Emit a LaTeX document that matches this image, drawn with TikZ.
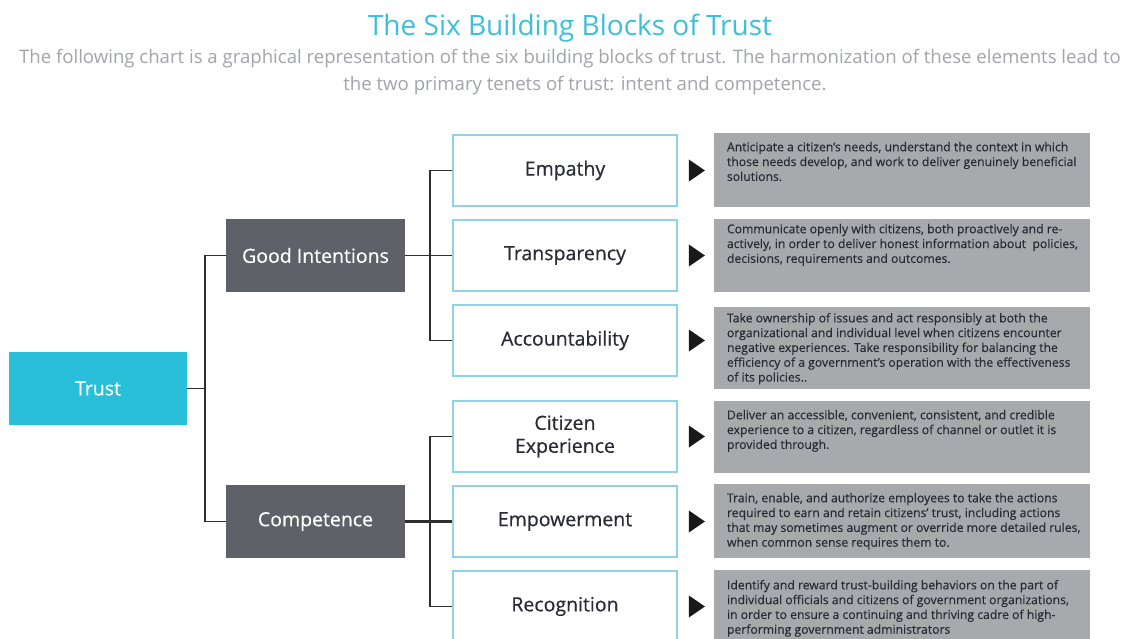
\documentclass[tikz,border=0pt]{standalone}
\usepackage{fontspec}
\setmainfont{Open Sans}
\newfontfamily\semifont[FakeBold=0.5]{Open Sans}
\newfontfamily\notefont[FakeBold=0.3]{Open Sans}
\usetikzlibrary{calc}
\definecolor{titlecyan}{HTML}{3DBFD9}
\definecolor{subgray}{HTML}{A3A4AB}
\definecolor{trustcyan}{HTML}{29BFD9}
\definecolor{slate}{HTML}{5E6168}
\definecolor{edgeblue}{HTML}{8FD4E6}
\definecolor{descgray}{HTML}{A7A9AC}
\definecolor{inkdark}{HTML}{2A2A35}
\definecolor{linedark}{HTML}{2E2E2E}
\tikzset{
  rootbox/.style={fill=trustcyan, text=white, minimum width=178pt, minimum height=73pt,
    inner sep=0pt, font=\semifont\fontsize{19.5}{22}\selectfont},
  tenetbox/.style={fill=slate, text=white, minimum width=179pt, minimum height=73pt,
    inner sep=0pt, font=\semifont\fontsize{19.5}{22}\selectfont},
  blockbox/.style={draw=edgeblue, line width=1.8pt, fill=white, text=inkdark,
    minimum width=224pt, minimum height=71pt, inner sep=0pt, align=center,
    font=\semifont\fontsize{19.5}{23}\selectfont},
  descbox/.style={fill=descgray, minimum width=376pt, inner sep=0pt},
  desctext/.style={anchor=north west, inner sep=0pt, align=left, text=inkdark,
    font=\notefont\fontsize{12.2}{14.8}\selectfont},
  link/.style={draw=linedark, line width=1.6pt},
  thicklink/.style={draw=linedark, line width=2.6pt},
  pointer/.style={fill=black!90},
}
\begin{document}
\begin{tikzpicture}[x=1pt,y=-1pt]
\useasboundingbox (0,0) rectangle (1125,639);
\fill[white] (0,0) rectangle (1125,639);

% heading
\node (title) at (570,28) {\color{titlecyan}\fontsize{28}{32}\selectfont The Six Building Blocks of Trust};
\node (sub1) at (570,59) {\color{subgray}\fontsize{18.6}{22}\selectfont The following chart is a graphical representation of the six building blocks of trust. The harmonization of these elements lead to};
\node (sub2) at (585,86) {\color{subgray}\fontsize{18.6}{22}\selectfont the two primary tenets of trust: intent and competence.};

% root and tenets
\node[rootbox] (trust) at (98,388.5) {Trust};
\node[tenetbox] (gi) at (315.5,255.5) {Good Intentions};
\node[tenetbox] (comp) at (315.5,521.5) {Competence};

% building blocks
\node[blockbox] (emp) at (565,170.5) {Empathy};
\node[blockbox] (tra) at (565,255.5) {Transparency};
\node[blockbox] (acc) at (565,340.5) {Accountability};
\node[blockbox] (cit) at (565,436.5) {Citizen\\Experience};
\node[blockbox] (pow) at (565,521.5) {Empowerment};
\node[blockbox] (rec) at (565,606.5) {Recognition};

% description panels
\node[descbox, minimum height=74pt] (dEmp) at (902,170) {};
\node[descbox, minimum height=73pt] (dTra) at (902,255.5) {};
\node[descbox, minimum height=82pt] (dAcc) at (902,348) {};
\node[descbox, minimum height=72pt] (dCit) at (902,437) {};
\node[descbox, minimum height=74pt] (dPow) at (902,521) {};
\node[descbox, minimum height=73pt] (dRec) at (902,606.5) {};

\node[desctext] (tEmp) at ($(dEmp.north west)+(13,9)$) {Anticipate a citizen’s needs, understand the context in which\\those needs develop, and work to deliver genuinely beneficial\\solutions.};
\node[desctext] (tTra) at ($(dTra.north west)+(13,5)$) {Communicate openly with citizens, both proactively and re-\\actively, in order to deliver honest information about \ policies,\\decisions, requirements and outcomes.};
\node[desctext] (tAcc) at ($(dAcc.north west)+(13,6)$) {Take ownership of issues and act responsibly at both the\\organizational and individual level when citizens encounter\\negative experiences. Take responsibility for balancing the\\efficiency of a government’s operation with the effectiveness\\of its policies..};
\node[desctext] (tCit) at ($(dCit.north west)+(13,9)$) {Deliver an accessible, convenient, consistent, and credible\\experience to a citizen, regardless of channel or outlet it is\\provided through.};
\node[desctext] (tPow) at ($(dPow.north west)+(13,9)$) {Train, enable, and authorize employees to take the actions\\required to earn and retain citizens’ trust, including actions\\that may sometimes augment or override more detailed rules,\\when common sense requires them to.};
\node[desctext] (tRec) at ($(dRec.north west)+(13,10)$) {Identify and reward trust-building behaviors on the part of\\individual officials and citizens of government organizations,\\in order to ensure a continuing and thriving cadre of high-\\performing government administrators};

% tree connectors
\coordinate (jRoot) at ($(trust.east)+(18,0)$);
\draw[link] (trust.east) -- (jRoot);
\draw[link] (jRoot) |- (gi.west);
\draw[link] (jRoot) |- (comp.west);

\coordinate (jGI) at ($(gi.east)+(25,0)$);
\draw[link] (gi.east) -- (tra.west);
\draw[link] (jGI) |- (emp.west);
\draw[link] (jGI) |- (acc.west);

\coordinate (jC) at ($(comp.east)+(25,0)$);
\draw[thicklink] (comp.east) -- (pow.west);
\draw[link] (jC) |- (cit.west);
\draw[link] (jC) |- (rec.west);

% pointers from blocks to descriptions
\foreach \b in {emp,tra,acc,cit,pow,rec}{
  \fill[pointer] ($(\b.east)+(11,-11)$) -- ++(16,11) -- ++(-16,11) -- cycle;
}
\end{tikzpicture}
\end{document}
